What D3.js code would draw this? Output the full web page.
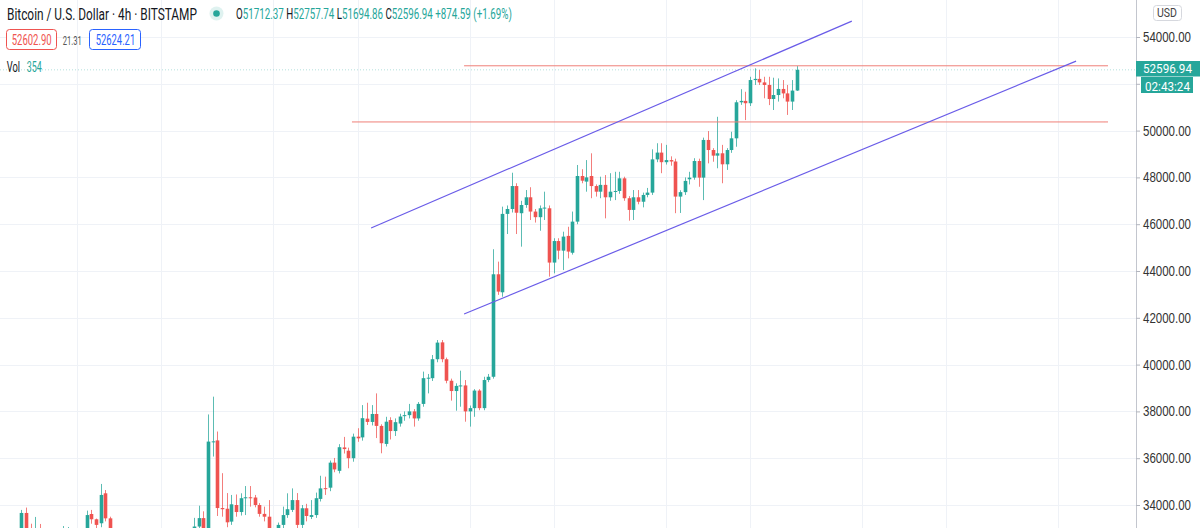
<!DOCTYPE html>
<html>
<head>
<meta charset="utf-8">
<script src="https://cdn.jsdelivr.net/npm/d3@7"></script>
<style>
  body { margin: 0; background: #fff; }
  svg { display: block; font-family: Roboto, "Noto Sans", sans-serif; }
</style>
</head>
<body>
<svg id="chart" width="1200" height="528"></svg>
<script>
// 4h candles, BTC/USD Bitstamp (oldest first)
const opens = [32850,33660,32930,32700,32950,32450,32600,32350,32500,32700,32900,32950,32500,32650,32850,33615,33390,33220,34500,33430,
  32600,32200,32300,32000,31500,31800,32100,31900,31000,30300,30400,30800,31300,31700,31500,32200,32700,32900,33080,33440,
  32500,36680,36760,33870,33840,33290,34000,33700,34290,34330,34320,34000,33620,33500,32950,32850,33150,33570,33790,34210,
  33150,33860,33490,33570,34260,34720,34740,35810,35460,36460,36320,36000,36920,36890,37690,37550,37890,37380,36610,37630,
  37160,37480,37800,37840,38000,37700,38320,39400,39420,40230,40950,40230,39310,38870,39090,39110,38000,38140,38890,38140,
  39340,39480,43860,43090,46440,46650,47630,46470,46820,47150,46540,46300,46680,46680,44360,45280,44870,45500,44780,46110,
  48060,47820,48060,47630,47390,47680,47150,47390,47420,47960,47110,46610,47150,46960,47250,47350,48770,49060,48650,48740,
  48680,47180,47370,47920,47990,48700,47990,49600,49170,48930,49030,48560,49170,49670,51210,51270,51170,52160,52210,52060,
  51950,51350,51520,51780,51590,51240,51712.37];
const highs = [33790,33890,33200,33490,33190,32800,32900,32700,32850,33100,33060,32990,32850,32950,33760,33790,33420,34900,34640,33500,
  32900,32500,32700,32400,32000,32300,32600,32100,31300,30600,31100,31500,31900,32200,32400,32900,32980,33450,33970,33730,
  37870,38630,37140,35360,34510,34430,34450,34500,34810,34810,34430,34080,33930,34210,33000,33250,33930,34500,34710,34510,
  34000,34050,34210,34530,35250,35210,35900,36010,36600,36910,36450,37050,37280,38270,38370,38270,38770,37450,37770,37750,
  37700,37900,38000,38320,38100,38400,39700,39600,40410,41050,41050,40300,39400,39200,39740,39340,38250,38950,38950,39480,
  39600,44930,44400,46750,46800,48200,47750,47000,47460,47580,46650,46800,47390,46800,45400,45400,45680,45890,46540,48530,
  48350,48740,49030,47700,48030,48100,48180,48240,48240,48030,47200,47460,47460,47350,47550,49200,49460,49460,49390,48900,
  48800,47450,48000,48240,48820,48800,49700,49980,49250,50590,49390,49250,49950,51300,51770,51660,52300,52660,52590,52300,
  52300,52260,52230,52160,51950,52160,52757.74];
const lows = [32680,32720,32500,32550,32300,32100,32200,31900,32200,32400,32600,32300,32100,32400,32700,33200,33000,33050,33300,32300,
  31800,31600,31900,31200,30900,31400,31700,30800,29900,29200,30000,30500,31000,31200,31300,32000,32300,32700,32900,32300,
  32200,36070,33530,33500,33050,33150,33500,33550,33570,33930,33900,33500,33300,32800,32700,32600,33000,33450,33700,32950,
  33000,33300,33400,33450,34150,34430,34590,35400,35350,36200,35570,35850,36700,36750,37420,37400,36860,36210,36500,36800,
  36950,37350,37600,37700,37350,37600,38200,38770,39300,40100,40100,39200,38460,38030,38200,37560,37350,37770,38050,38050,
  39250,39400,42980,42900,45580,46500,45580,45040,46700,46180,46070,45720,46180,43760,43900,44500,44040,44540,44700,46000,
  47750,47390,47110,47180,47110,46250,47000,47030,47300,47000,46150,46180,46850,46720,47150,47250,48650,48180,48550,48500,
  46470,46480,47250,47700,47900,47600,47030,48600,48670,48390,47750,48320,49050,49310,51100,50450,51050,51950,51950,51380,
  51090,50880,51240,51380,50670,50880,51694.86];
const closes = [33660,32930,32700,32950,32450,32600,32350,32500,32700,32900,32950,32500,32650,32850,33570,33390,33150,34430,33430,32600,
  32200,32300,32000,31500,31800,32100,31900,31000,30300,30400,30800,31300,31700,31500,32200,32700,32900,33080,33440,32500,
  36710,36720,33870,33820,33260,34030,33700,34290,34330,34320,34000,33620,33500,32950,32850,33150,33570,33820,34210,33150,
  33860,33530,33570,34290,34710,34680,35810,35520,36470,36390,36000,36920,36850,37710,37550,37890,37380,36640,37560,37160,
  37540,37780,37840,38000,37700,38320,39420,39440,40230,40940,40230,39310,38870,39090,39110,38000,38140,38890,38140,39340,
  39480,43860,43120,46440,46650,47630,46490,46820,47150,46540,46300,46680,46710,44360,45280,44870,45470,44830,46110,48060,
  47860,48000,47630,47390,47680,47150,47390,47420,47960,47110,46610,47150,46960,47250,47350,48770,49060,48650,48740,48680,
  47180,47370,47850,47990,48700,47990,49600,49170,48930,49030,48560,49170,49670,51210,51270,51170,52160,52210,52060,51950,
  51350,51520,51780,51590,51240,51710,52596.94];

const priceTicks = d3.range(34000, 54001, 2000);
const timeGrid = [12, 30, 54, 72, 96, 114, 138, 156, 180, 198, 222]; // candle index of each day line
// drawings: [startIndex, startPrice, endIndex, endPrice]
const channelLines = [[74.9, 45840, 177.8, 54680], [94.8, 42160, 225.8, 52970]];
const levelLines = [[94.8, 52770, 231.8, 52770], [70.8, 50370, 231.8, 50370]];

const last = { o: 51712.37, h: 52757.74, l: 51694.86, c: 52596.94, chg: 874.59, pct: 1.69 };
const bid = "52602.90", spread = "21.31", ask = "52624.21", vol = "354", countdown = "02:43:24";

const up = "#26a69a", down = "#ef5350";
const axisX = 1136;

const svg = d3.select("#chart");
const x = d3.scaleLinear().domain([0, 166]).range([21.2, 796.7]);
const y = d3.scaleLinear().domain([34000, 54000]).range([505, 37]);

svg.append("defs").append("clipPath").attr("id", "plot")
  .append("rect").attr("width", axisX).attr("height", 528);

const plot = svg.append("g").attr("clip-path", "url(#plot)");

// grid
plot.selectAll(".hg").data(priceTicks).enter().append("line")
  .attr("x1", 0).attr("x2", axisX)
  .attr("y1", d => Math.round(y(d)) + 0.5).attr("y2", d => Math.round(y(d)) + 0.5)
  .attr("stroke", "#eff2f7");
plot.selectAll(".vg").data(timeGrid).enter().append("line")
  .attr("x1", d => Math.round(x(d)) + 0.5).attr("x2", d => Math.round(x(d)) + 0.5)
  .attr("y1", 0).attr("y2", 528)
  .attr("stroke", "#eff2f7");

// current price line
plot.append("line")
  .attr("x1", 0).attr("x2", axisX)
  .attr("y1", y(last.c)).attr("y2", y(last.c))
  .attr("stroke", up).attr("stroke-opacity", 0.35).attr("stroke-dasharray", "1,2");

// candles
const candles = d3.range(opens.length).map(i => ({ i, o: opens[i], h: highs[i], l: lows[i], c: closes[i] }));
const g = plot.selectAll(".candle").data(candles).enter().append("g");
g.append("line")
  .attr("x1", d => Math.round(x(d.i)) + 0.5).attr("x2", d => Math.round(x(d.i)) + 0.5)
  .attr("y1", d => y(d.h)).attr("y2", d => y(d.l))
  .attr("stroke", d => d.c >= d.o ? up : down).attr("stroke-opacity", 0.75);
g.append("rect")
  .attr("x", d => Math.round(x(d.i)) - 1.3)
  .attr("width", 3.6)
  .attr("y", d => y(Math.max(d.o, d.c)))
  .attr("height", d => Math.max(1, Math.abs(y(d.o) - y(d.c))))
  .attr("fill", d => d.c >= d.o ? up : down);

// drawings
plot.selectAll(".lvl").data(levelLines).enter().append("line")
  .attr("x1", d => x(d[0])).attr("y1", d => y(d[1]))
  .attr("x2", d => x(d[2])).attr("y2", d => y(d[3]))
  .attr("stroke", "#ef7f78").attr("stroke-width", 1);
plot.selectAll(".chan").data(channelLines).enter().append("line")
  .attr("x1", d => x(d[0])).attr("y1", d => y(d[1]))
  .attr("x2", d => x(d[2])).attr("y2", d => y(d[3]))
  .attr("stroke", "#6a5ce8").attr("stroke-width", 1.2);

// price scale
svg.append("line").attr("x1", axisX + 0.5).attr("x2", axisX + 0.5).attr("y1", 0).attr("y2", 528)
  .attr("stroke", "#c3c6ce");
const axis = svg.append("g").attr("transform", `translate(${axisX},0)`)
  .call(d3.axisRight(y).tickValues(priceTicks).tickFormat(d3.format(".2f")).tickSize(4).tickPadding(3));
axis.select(".domain").remove();
axis.selectAll("line").attr("stroke", "#b2b5be");
axis.selectAll("text").attr("fill", "#333").attr("font-size", 14)
  .attr("textLength", 48).attr("lengthAdjust", "spacingAndGlyphs");
// the last-price labels cover the tick label next to them
axis.selectAll(".tick").filter(d => Math.abs(y(d) - y(last.c)) < 22).select("text").remove();

// helper: text squeezed into a given width
function fitText(parent, x0, y0, width, size, parts, weight) {
  const t = parent.append("text").attr("x", 0).attr("y", 0).attr("font-size", size);
  if (weight) t.attr("font-weight", weight);
  parts.forEach(p => t.append("tspan").attr("fill", p[1]).text(p[0]));
  const w = t.node().getComputedTextLength();
  t.attr("transform", `translate(${x0},${y0}) scale(${width / w},1)`);
  return t;
}

// USD box
svg.append("rect").attr("x", 1153.5).attr("y", 5.5).attr("width", 28).attr("height", 15).attr("rx", 3)
  .attr("fill", "#fff").attr("stroke", "#d6d8de");
fitText(svg, 1157, 17, 20, 12, [["USD", "#444"]]);

// last price labels
svg.append("rect").attr("x", axisX).attr("y", 61).attr("width", 64).attr("height", 15.5).attr("fill", up);
fitText(svg, 1143, 72.5, 49, 12.5, [[d3.format(".2f")(last.c), "#fff"]]);
svg.append("rect").attr("x", 1141).attr("y", 77).attr("width", 52).attr("height", 16).attr("fill", up);
fitText(svg, 1145, 90.5, 45, 12.5, [[countdown, "#fff"]]);
svg.selectAll(".lvtick").data(levelLines).enter().append("line")
  .attr("x1", 1104).attr("x2", 1108).attr("y1", d => y(d[1])).attr("y2", d => y(d[1]))
  .attr("stroke", "#ef7f78");

// header
fitText(svg, 7, 19.5, 190, 17, [["Bitcoin / U.S. Dollar · 4h · BITSTAMP", "#131722"]]);
svg.append("circle").attr("cx", 216.5).attr("cy", 13.5).attr("r", 7).attr("fill", up).attr("fill-opacity", 0.15);
svg.append("circle").attr("cx", 216.5).attr("cy", 13.5).attr("r", 3.3).attr("fill", up);
const f2 = d3.format(".2f");
fitText(svg, 236, 19, 276, 14.5, [
  ["O", "#131722"], [f2(last.o), up], [" H", "#131722"], [f2(last.h), up],
  [" L", "#131722"], [f2(last.l), up], [" C", "#131722"], [f2(last.c), up],
  [` +${f2(last.chg)} (+${f2(last.pct)}%)`, up]
]);

svg.append("rect").attr("x", 6.5).attr("y", 29.5).attr("width", 50).attr("height", 20).attr("rx", 3)
  .attr("fill", "#fff").attr("stroke", "#ef5350");
fitText(svg, 11.7, 45, 40, 15, [[bid, "#ef5350"]]);
fitText(svg, 62.7, 44.5, 19, 12, [[spread, "#555"]]);
svg.append("rect").attr("x", 89.5).attr("y", 29.5).attr("width", 51).attr("height", 20).attr("rx", 3)
  .attr("fill", "#fff").attr("stroke", "#2962ff");
fitText(svg, 95.7, 45, 39.5, 15, [[ask, "#2962ff"]]);

fitText(svg, 6.7, 72, 13.3, 14, [["Vol", "#131722"]]);
fitText(svg, 26.7, 72, 15, 14, [[vol, up]]);
</script>
</body>
</html>
